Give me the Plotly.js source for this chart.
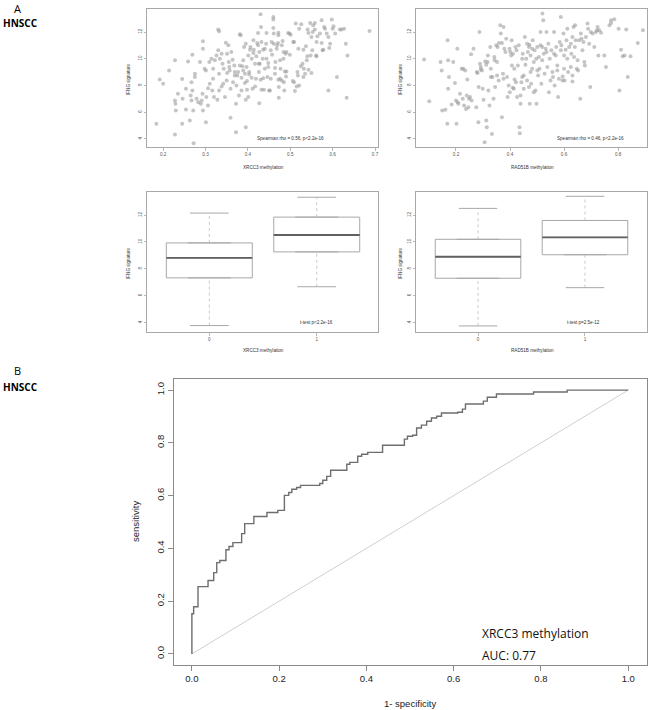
<!DOCTYPE html>
<html><head><meta charset="utf-8">
<script src="https://cdn.plot.ly/plotly-3.0.1.min.js"></script>
<style>body{margin:0;background:#fff}</style>
</head><body><div id="chart" style="width:650px;height:710px"></div>
<script>
// ---- Data ----
const xrccMethX = [0.184,0.192,0.200,0.214,0.228,0.228,0.230,0.229,0.235,0.228,0.245,0.245,0.246,0.254,0.254,0.259,0.263,0.265,0.267,0.267,0.269,0.275,0.275,0.269,0.271,0.272,0.279,0.283,0.287,0.289,0.291,0.293,0.294,0.294,0.294,0.298,0.301,0.301,0.302,0.306,0.309,0.306,0.310,0.314,0.316,0.318,0.318,0.320,0.322,0.326,0.328,0.330,0.332,0.330,0.332,0.332,0.334,0.338,0.338,0.340,0.342,0.343,0.346,0.348,0.350,0.351,0.351,0.354,0.355,0.356,0.357,0.359,0.359,0.361,0.364,0.365,0.368,0.369,0.369,0.372,0.372,0.373,0.375,0.377,0.379,0.381,0.381,0.383,0.385,0.385,0.387,0.389,0.389,0.391,0.393,0.393,0.395,0.395,0.395,0.397,0.398,0.398,0.401,0.401,0.403,0.403,0.405,0.406,0.409,0.409,0.411,0.413,0.413,0.414,0.417,0.417,0.419,0.420,0.422,0.424,0.424,0.426,0.426,0.427,0.427,0.428,0.430,0.430,0.431,0.432,0.432,0.435,0.436,0.436,0.438,0.440,0.440,0.443,0.444,0.444,0.446,0.448,0.448,0.450,0.452,0.454,0.454,0.456,0.457,0.460,0.460,0.460,0.461,0.461,0.464,0.464,0.465,0.468,0.469,0.471,0.472,0.472,0.472,0.473,0.473,0.476,0.476,0.477,0.480,0.480,0.482,0.484,0.484,0.485,0.486,0.487,0.489,0.490,0.491,0.491,0.495,0.498,0.499,0.501,0.506,0.507,0.509,0.509,0.511,0.513,0.515,0.517,0.518,0.519,0.521,0.521,0.525,0.526,0.529,0.531,0.531,0.532,0.535,0.537,0.539,0.540,0.541,0.543,0.543,0.547,0.548,0.550,0.550,0.552,0.553,0.554,0.558,0.558,0.561,0.562,0.562,0.564,0.570,0.574,0.574,0.576,0.578,0.580,0.582,0.586,0.590,0.590,0.592,0.594,0.598,0.600,0.602,0.606,0.610,0.617,0.621,0.627,0.631,0.633,0.635,0.687];
const xrccIfngY = [5.13,8.45,8.13,9.13,9.88,6.88,6.13,6.63,7.38,4.33,5.13,8.48,7.00,7.75,6.20,9.80,5.38,7.25,8.25,6.88,10.30,8.88,8.63,7.63,6.13,3.68,7.00,6.75,9.75,6.63,6.88,7.38,6.13,11.30,10.75,9.25,9.13,5.25,7.13,6.50,9.75,7.80,8.13,10.00,7.63,8.50,9.25,7.13,9.88,10.25,6.93,12.18,12.05,10.63,7.63,8.88,10.00,10.38,7.93,9.63,8.13,9.25,7.13,11.20,8.38,10.38,8.93,11.00,9.75,9.38,9.13,5.58,7.75,10.50,9.93,8.25,9.50,8.75,9.00,6.63,4.50,8.00,8.75,9.00,7.25,11.83,9.50,11.75,8.58,7.63,9.43,9.88,9.13,10.88,8.18,8.88,4.88,11.13,6.93,9.38,7.68,8.33,7.13,10.25,9.00,8.83,10.68,10.88,8.58,10.00,7.75,10.43,11.38,10.68,9.63,7.93,8.50,10.18,11.18,11.93,11.00,9.63,9.00,10.50,6.68,9.63,13.33,8.43,12.38,11.25,7.68,10.00,10.68,8.55,7.68,9.25,10.75,11.13,11.93,10.00,8.63,9.38,9.68,7.63,7.63,10.63,8.50,11.25,10.30,12.93,13.13,12.30,11.88,11.13,8.88,9.30,9.75,10.75,11.00,11.18,11.95,11.75,8.43,7.88,7.08,8.50,9.88,9.25,8.38,11.00,11.33,10.00,10.50,8.25,7.63,9.05,10.38,8.68,9.05,10.50,11.93,11.88,10.30,11.80,8.33,11.25,11.25,8.25,7.58,12.63,7.93,9.00,8.75,10.75,12.25,8.00,9.43,12.58,9.63,8.63,10.68,9.25,8.88,10.93,9.88,10.18,12.18,11.93,9.18,12.68,10.25,11.63,8.93,10.63,12.00,12.50,12.68,12.18,10.25,10.18,11.25,11.68,11.88,12.88,11.18,10.63,10.68,12.38,12.25,11.88,11.63,7.63,10.80,11.13,12.93,12.25,12.43,11.88,8.63,12.18,12.18,12.25,11.13,7.08,10.25,12.08];

const rad51bMethX = [0.082,0.101,0.143,0.147,0.149,0.161,0.168,0.169,0.171,0.171,0.174,0.184,0.190,0.196,0.200,0.202,0.205,0.206,0.209,0.215,0.221,0.225,0.227,0.230,0.234,0.237,0.240,0.242,0.246,0.248,0.252,0.256,0.258,0.265,0.275,0.277,0.280,0.283,0.284,0.287,0.289,0.292,0.292,0.296,0.299,0.302,0.306,0.308,0.312,0.312,0.314,0.317,0.318,0.320,0.324,0.327,0.329,0.329,0.333,0.335,0.339,0.342,0.343,0.345,0.349,0.352,0.352,0.354,0.358,0.359,0.364,0.366,0.370,0.370,0.374,0.376,0.376,0.379,0.383,0.386,0.389,0.391,0.395,0.398,0.399,0.401,0.404,0.406,0.407,0.410,0.411,0.414,0.416,0.417,0.420,0.422,0.424,0.426,0.429,0.432,0.435,0.436,0.439,0.439,0.442,0.445,0.445,0.447,0.451,0.451,0.455,0.457,0.460,0.463,0.463,0.466,0.470,0.470,0.472,0.473,0.476,0.476,0.478,0.482,0.482,0.484,0.488,0.488,0.491,0.494,0.497,0.498,0.501,0.501,0.504,0.507,0.509,0.513,0.513,0.516,0.519,0.519,0.520,0.523,0.525,0.528,0.532,0.535,0.535,0.538,0.542,0.544,0.547,0.550,0.553,0.557,0.559,0.563,0.563,0.565,0.569,0.571,0.575,0.575,0.578,0.581,0.584,0.588,0.588,0.590,0.594,0.595,0.598,0.600,0.600,0.602,0.606,0.609,0.612,0.612,0.615,0.619,0.625,0.625,0.627,0.631,0.631,0.631,0.635,0.637,0.640,0.641,0.643,0.647,0.650,0.652,0.656,0.660,0.662,0.665,0.668,0.672,0.675,0.677,0.681,0.687,0.689,0.693,0.697,0.699,0.706,0.712,0.718,0.722,0.724,0.727,0.730,0.737,0.749,0.755,0.768,0.774,0.774,0.786,0.802,0.805,0.811,0.817,0.824,0.830,0.836,0.846,0.873,0.892];
const rad51bIfngY = [9.95,6.83,9.75,9.13,6.13,6.18,5.13,11.38,9.88,7.75,8.63,6.58,9.75,8.18,6.88,5.13,10.75,6.75,6.63,7.38,9.25,7.00,9.25,6.50,9.13,6.25,7.25,8.45,6.38,7.00,7.13,10.33,6.88,10.75,6.38,9.00,8.93,5.25,7.88,12.00,9.63,9.20,9.38,9.13,7.75,6.93,3.75,9.80,9.55,5.38,4.88,9.75,10.25,7.63,6.50,10.88,9.25,8.63,4.38,8.63,7.00,10.13,9.88,7.88,11.00,9.75,8.75,10.88,8.38,11.18,12.50,11.88,11.18,5.63,8.88,8.50,12.38,10.75,10.50,11.50,8.63,7.13,8.00,10.75,7.50,10.50,10.25,11.38,9.50,7.83,10.38,7.75,9.25,8.45,10.88,8.25,10.63,7.13,9.50,11.00,4.88,4.43,6.63,7.25,8.25,10.00,8.63,10.38,8.75,7.75,11.63,9.55,10.00,8.38,11.13,10.50,7.88,10.88,11.05,6.63,10.25,9.00,8.13,9.25,10.75,11.38,9.75,7.50,10.63,7.63,10.00,6.63,9.13,10.88,8.75,10.13,9.25,12.00,11.00,8.13,9.88,10.88,13.38,12.88,10.38,8.88,10.75,10.50,12.00,9.38,11.13,7.50,10.00,8.38,10.63,9.00,8.63,12.00,10.38,8.00,10.25,10.88,9.50,9.13,7.13,8.50,11.25,13.13,10.63,11.00,8.38,8.68,11.88,10.25,9.25,8.38,10.68,11.38,12.25,10.00,9.00,10.88,9.38,11.13,10.38,11.63,8.75,8.30,12.38,10.13,10.88,12.50,11.38,9.25,9.88,9.13,11.38,7.00,11.88,11.50,10.63,11.25,9.75,9.50,11.63,12.63,12.25,11.13,7.88,12.00,11.88,10.88,12.00,12.13,12.38,10.25,12.13,11.95,10.25,9.38,12.50,12.88,12.68,12.95,12.25,7.63,10.68,10.18,10.25,12.18,8.63,10.18,11.18,12.13];

const boxGroups = [0, 1];
const boxTickText = ['0', '1'];
const xrccQ1 = [7.33, 9.26], xrccMedian = [8.81, 10.52], xrccQ3 = [9.93, 11.85], xrccLow = [3.78, 6.67], xrccHigh = [12.15, 13.33];
const radQ1 = [7.30, 9.05], radMedian = [8.90, 10.35], radQ3 = [10.20, 11.60], radLow = [3.75, 6.60], radHigh = [12.50, 13.40];

const rocFpr = [0,0,0.004,0.014,0.037,0.050,0.057,0.064,0.078,0.085,0.094,0.114,0.121,0.142,0.172,0.197,0.212,0.222,0.229,0.240,0.249,0.293,0.300,0.309,0.318,0.355,0.362,0.380,0.389,0.403,0.437,0.487,0.494,0.506,0.515,0.526,0.538,0.549,0.561,0.572,0.609,0.620,0.627,0.668,0.677,0.698,0.783,0.860,1.0];
const rocTpr = [0,0.152,0.179,0.255,0.278,0.308,0.346,0.354,0.395,0.407,0.422,0.456,0.494,0.521,0.536,0.544,0.601,0.612,0.624,0.631,0.639,0.646,0.658,0.673,0.696,0.719,0.726,0.749,0.757,0.764,0.791,0.814,0.825,0.829,0.856,0.867,0.882,0.894,0.901,0.913,0.916,0.928,0.947,0.958,0.973,0.985,0.993,1.0,1.0];
const chanceX = [0, 1], chanceY = [0, 1];

const scatterTicksX1 = [0.2,0.3,0.4,0.5,0.6,0.7];
const scatterTicksX2 = [0.2,0.4,0.6,0.8];
const ifngTicks = [4,6,8,10,12];
const rocTicks = [0,0.2,0.4,0.6,0.8,1.0];

// ---- Layout helpers ----
const W = 650, H = 710;
const fx = p => p / W, fy = p => 1 - p / H;
const SMALL = 4.6, SFONT = 'Liberation Sans, Arial, sans-serif';
const boxLine = '#a8a8a8';

function smallAxis(domain, range, tickvals, anchor, isY, ticktext) {
  const a = {
    domain: domain, range: range, anchor: anchor, tickvals: tickvals,
    showline: true, mirror: true, linecolor: boxLine, linewidth: 1,
    ticks: 'outside', ticklen: 2.5, tickwidth: 0.8, tickcolor: boxLine,
    showgrid: false, zeroline: false, fixedrange: true,
    tickfont: {size: SMALL, family: SFONT, color: '#555'}
  };
  if (ticktext) a.ticktext = ticktext;
  if (isY) a.tickangle = -90;
  return a;
}

const traces = [];
function scatterTrace(x, y, xa, ya) {
  return {type: 'scatter', mode: 'markers', x: x, y: y, xaxis: xa, yaxis: ya,
    marker: {size: 4, color: 'rgba(150,150,150,0.55)', line: {width: 0}},
    hoverinfo: 'skip', showlegend: false};
}
traces.push(scatterTrace(xrccMethX, xrccIfngY, 'x', 'y'));
traces.push(scatterTrace(rad51bMethX, rad51bIfngY, 'x2', 'y2'));

function boxTraces(q1, med, q3, lo, hi, xa, ya) {
  const out = [];
  out.push({type: 'box', x: boxGroups, q1: q1, median: med, q3: q3,
    lowerfence: q1, upperfence: q3, width: 0.8, xaxis: xa, yaxis: ya,
    line: {color: boxLine, width: 1}, fillcolor: 'rgba(255,255,255,1)',
    boxpoints: false, hoverinfo: 'skip', showlegend: false});
  boxGroups.forEach((g, i) => {
    out.push({type: 'scatter', mode: 'lines', x: [g, g], y: [q3[i], hi[i]], xaxis: xa, yaxis: ya,
      line: {color: '#bdbdbd', width: 0.8, dash: 'dot'}, hoverinfo: 'skip', showlegend: false});
    out.push({type: 'scatter', mode: 'lines', x: [g, g], y: [lo[i], q1[i]], xaxis: xa, yaxis: ya,
      line: {color: '#bdbdbd', width: 0.8, dash: 'dot'}, hoverinfo: 'skip', showlegend: false});
    out.push({type: 'scatter', mode: 'lines', x: [g - 0.18, g + 0.18], y: [hi[i], hi[i]], xaxis: xa, yaxis: ya,
      line: {color: boxLine, width: 1}, hoverinfo: 'skip', showlegend: false});
    out.push({type: 'scatter', mode: 'lines', x: [g - 0.18, g + 0.18], y: [lo[i], lo[i]], xaxis: xa, yaxis: ya,
      line: {color: boxLine, width: 1}, hoverinfo: 'skip', showlegend: false});
    out.push({type: 'scatter', mode: 'lines', x: [g - 0.4, g + 0.4], y: [med[i], med[i]], xaxis: xa, yaxis: ya,
      line: {color: '#606060', width: 1.8}, hoverinfo: 'skip', showlegend: false});
  });
  return out;
}
traces.push(...boxTraces(xrccQ1, xrccMedian, xrccQ3, xrccLow, xrccHigh, 'x3', 'y3'));
traces.push(...boxTraces(radQ1, radMedian, radQ3, radLow, radHigh, 'x4', 'y4'));

traces.push({type: 'scatter', mode: 'lines', x: chanceX, y: chanceY, xaxis: 'x5', yaxis: 'y5',
  line: {color: '#cfcfcf', width: 1}, hoverinfo: 'skip', showlegend: false});
traces.push({type: 'scatter', mode: 'lines', x: rocFpr, y: rocTpr, xaxis: 'x5', yaxis: 'y5',
  line: {color: '#6e6e6e', width: 1.4, shape: 'hv'}, hoverinfo: 'skip', showlegend: false});

const TOPY = [fy(147), fy(9)], BOTY = [fy(332), fy(192)];
const LEFTX = [fx(147), fx(378)], RIGHTX = [fx(416), fx(647)];

function ann(text, px, py, size, opts) {
  return Object.assign({text: text, x: fx(px), y: fy(py), xref: 'paper', yref: 'paper',
    showarrow: false, xanchor: 'center', yanchor: 'middle',
    font: {size: size, family: SFONT, color: '#333'}}, opts || {});
}
const LBL = {family: 'Open Sans, sans-serif', color: '#000'};

const layout = {
  width: W, height: H, margin: {l: 0, r: 0, t: 0, b: 0},
  paper_bgcolor: '#fff', plot_bgcolor: '#fff', showlegend: false,
  xaxis: smallAxis(LEFTX, [0.162, 0.707], scatterTicksX1, 'y', false),
  yaxis: smallAxis(TOPY, [3.4, 13.72], ifngTicks, 'x', true),
  xaxis2: smallAxis(RIGHTX, [0.052, 0.907], scatterTicksX2, 'y2', false),
  yaxis2: smallAxis(TOPY, [3.4, 13.72], ifngTicks, 'x2', true),
  xaxis3: smallAxis(LEFTX, [-0.58, 1.57], boxGroups, 'y3', false, boxTickText),
  yaxis3: smallAxis(BOTY, [3.3, 13.72], ifngTicks, 'x3', true),
  xaxis4: smallAxis(RIGHTX, [-0.58, 1.58], boxGroups, 'y4', false, boxTickText),
  yaxis4: smallAxis(BOTY, [3.3, 13.72], ifngTicks, 'x4', true),
  xaxis5: {domain: [fx(174), fx(647)], range: [-0.041, 1.043], anchor: 'y5',
    tickvals: rocTicks, tickformat: '.1f', showline: true, mirror: true, linecolor: '#8a8a8a', linewidth: 1,
    ticks: 'outside', ticklen: 5, tickcolor: '#8a8a8a', showgrid: false, zeroline: false,
    tickfont: {size: 9.5, family: SFONT, color: '#222'}},
  yaxis5: {domain: [fy(665), fy(379)], range: [-0.042, 1.042], anchor: 'x5',
    tickvals: rocTicks, tickformat: '.1f', tickangle: -90, showline: true, mirror: true, linecolor: '#8a8a8a', linewidth: 1,
    ticks: 'outside', ticklen: 5, tickcolor: '#8a8a8a', showgrid: false, zeroline: false,
    tickfont: {size: 9.5, family: SFONT, color: '#222'}},
  annotations: [
    ann('A', 17, 9, 11, {borderpad: 0, font: Object.assign({size: 11}, LBL)}),
    ann('<b>HNSCC</b>', 2, 23, 10, {xanchor: 'left', borderpad: 0, font: Object.assign({size: 10}, LBL)}),
    ann('B', 17, 370, 11, {borderpad: 0, font: Object.assign({size: 11}, LBL)}),
    ann('<b>HNSCC</b>', 2, 387, 10, {xanchor: 'left', borderpad: 0, font: Object.assign({size: 10}, LBL)}),
    ann('XRCC3 methylation', 263, 167, SMALL),
    ann('RAD51B methylation', 532, 167, SMALL),
    ann('XRCC3 methylation', 263, 350, SMALL),
    ann('RAD51B methylation', 532, 350, SMALL),
    ann('IFNG signature', 129, 79, SMALL, {textangle: -90}),
    ann('IFNG signature', 401, 79, SMALL, {textangle: -90}),
    ann('IFNG signature', 129, 263, SMALL, {textangle: -90}),
    ann('IFNG signature', 401, 263, SMALL, {textangle: -90}),
    ann('Spearman rho = 0.56, p<2.2e-16', 290, 139, SMALL),
    ann('Spearman rho = 0.46, p<2.2e-16', 590, 139, SMALL),
    ann('t-test p<2.2e-16', 316, 322, SMALL),
    ann('t-test p=2.5e-12', 583, 322, SMALL),
    ann('sensitivity', 135, 522, 9.5, {textangle: -90, font: {size: 9.5, family: SFONT, color: '#222'}}),
    ann('1- specificity', 410, 703, 9.5, {font: {size: 9.5, family: SFONT, color: '#222'}}),
    ann('XRCC3 methylation', 480, 633, 12, {xanchor: 'left', font: {size: 12, family: 'Open Sans, sans-serif', color: '#111'}}),
    ann('AUC: 0.77', 480, 655, 12, {xanchor: 'left', font: {size: 12, family: 'Open Sans, sans-serif', color: '#111'}})
  ]
};

Plotly.newPlot('chart', traces, layout, {staticPlot: true, displayModeBar: false});
</script></body></html>
